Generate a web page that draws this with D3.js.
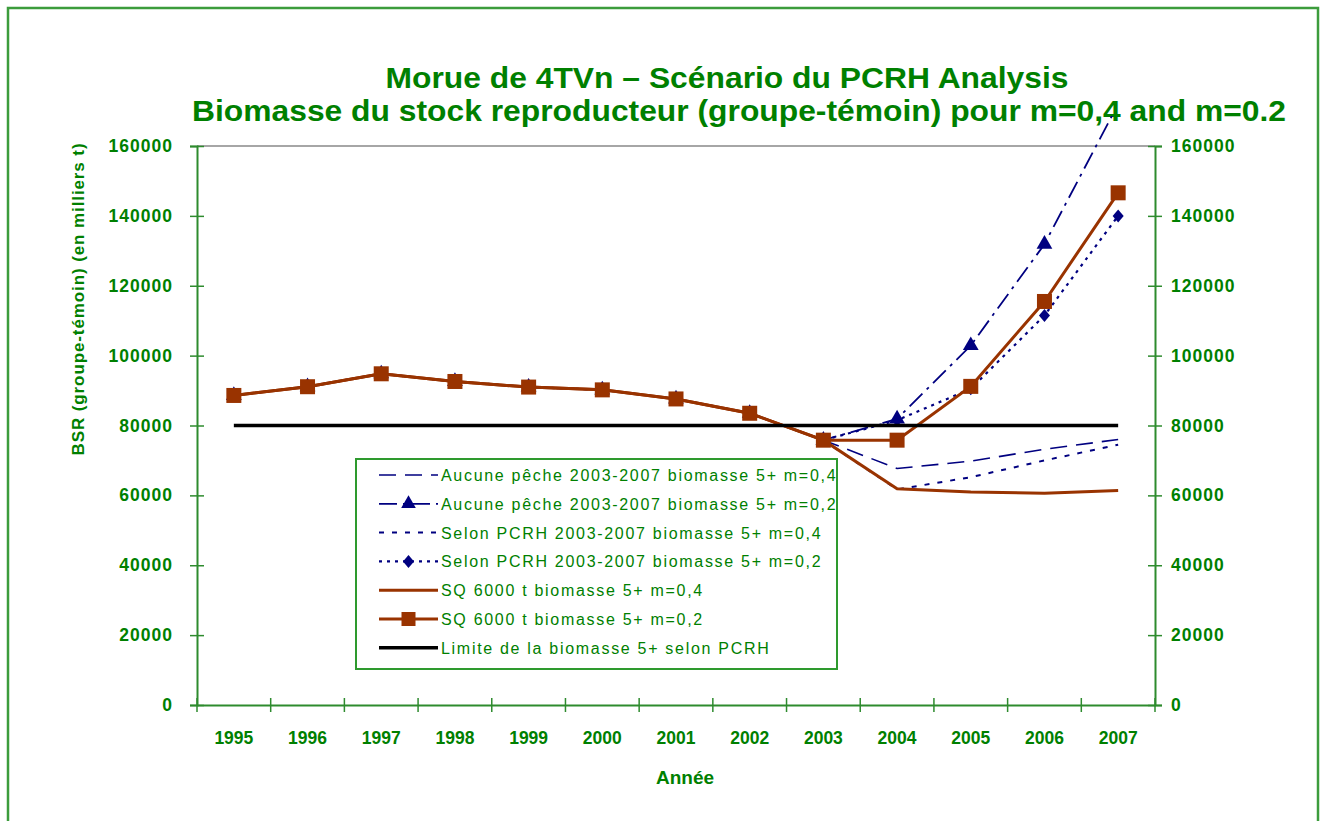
<!DOCTYPE html>
<html><head><meta charset="utf-8">
<script src="https://cdn.jsdelivr.net/npm/d3@7"></script>
<style>
body{margin:0;background:#fff}
svg{display:block}
text{font-family:"Liberation Sans",Arial,sans-serif}
</style>
</head><body>
<svg id="c" width="1320" height="821"></svg>
<script>
// ---------- data ----------
const years = [1995,1996,1997,1998,1999,2000,2001,2002,2003,2004,2005,2006,2007];
const yTicks = [0,20000,40000,60000,80000,100000,120000,140000,160000];
const aucune04 = [88600,91100,94800,92600,91000,90200,87600,83500,75800,67700,69800,73200,76000];
const aucune02 = [88600,91100,94800,92600,91000,90200,87600,83500,75800,81900,102900,131900,172000];
const selon04  = [88600,91100,94800,92600,91000,90200,87600,83500,75800,61700,65200,70000,74500];
const selon02  = [88600,91100,94800,92600,91000,90200,87600,83500,75800,81500,90500,111500,140000];
const sq04     = [88600,91100,94800,92600,91000,90200,87600,83500,75800,61900,61000,60600,61400];
const sq02     = [88600,91100,94800,92600,91000,90200,87600,83500,75800,75800,91200,115500,146600];
const limite   = [80000,80000,80000,80000,80000,80000,80000,80000,80000,80000,80000,80000,80000];
const labels = [
  "Aucune pêche 2003-2007 biomasse 5+ m=0,4",
  "Aucune pêche 2003-2007 biomasse 5+ m=0,2",
  "Selon PCRH 2003-2007 biomasse 5+  m=0,4",
  "Selon PCRH 2003-2007 biomasse 5+  m=0,2",
  "SQ 6000 t  biomasse 5+ m=0,4",
  "SQ 6000 t  biomasse 5+ m=0,2",
  "Limite de la biomasse 5+ selon PCRH"
];
const titleLines = ["Morue de 4TVn – Scénario du PCRH Analysis",
                    "Biomasse du stock reproducteur (groupe-témoin) pour m=0,4 and m=0.2"];
const yTitle = "BSR (groupe-témoin) (en milliers t)";
const xTitle = "Année";

// ---------- styles ----------
const NAVY = "#000080", BROWN = "#993300", GREEN = "#008000", AXIS = "#2e8b2e";
const series = [
  {values: aucune04, color: NAVY,  width: 1.6, dash: "17,9",      marker: null},
  {values: aucune02, color: NAVY,  width: 1.8, dash: "18,6,3,6",  marker: "triangle"},
  {values: selon04,  color: NAVY,  width: 2,   dash: "5,8",       marker: null},
  {values: selon02,  color: NAVY,  width: 2.2, dash: "3,5",       marker: "diamond"},
  {values: sq04,     color: BROWN, width: 3,   dash: null,        marker: null},
  {values: sq02,     color: BROWN, width: 3,   dash: null,        marker: "square"},
  {values: limite,   color: "#000", width: 3.5, dash: null,       marker: null}
];

const svg = d3.select("#c");
const L = 197, R = 1155, T = 146, B = 705;
const x = d3.scaleBand().domain(years).range([L, R]);
const cx = d => x(d) + x.bandwidth()/2;
const y = d3.scaleLinear().domain([0,160000]).range([B, T]);

// outer frame
svg.append("rect").attr("x",8).attr("y",8).attr("width",1310).attr("height",840)
  .attr("fill","none").attr("stroke","#3c9c3c").attr("stroke-width",2.5);

// title
svg.append("text").attr("x",727).attr("y",88).attr("text-anchor","middle")
  .attr("fill",GREEN).attr("font-size",29).attr("font-weight","bold")
  .attr("textLength",683).attr("lengthAdjust","spacingAndGlyphs").text(titleLines[0]);
svg.append("text").attr("x",739).attr("y",121).attr("text-anchor","middle")
  .attr("fill",GREEN).attr("font-size",29).attr("font-weight","bold")
  .attr("textLength",1094).attr("lengthAdjust","spacingAndGlyphs").text(titleLines[1]);

// top plot border
svg.append("line").attr("x1",L).attr("x2",R).attr("y1",T).attr("y2",T)
  .attr("stroke","#888").attr("stroke-width",1.5);

// left axis
const gl = svg.append("g").attr("transform",`translate(${L},0)`)
  .call(d3.axisLeft(y).tickValues(yTicks).tickFormat(d3.format("d")).tickSize(7).tickPadding(17));
gl.select(".domain").attr("stroke",AXIS).attr("stroke-width",2);
gl.selectAll(".tick line").attr("stroke",AXIS).attr("stroke-width",1.5).attr("x2",-7).attr("x1",7);
gl.selectAll(".tick text").attr("fill",GREEN).attr("font-size",17.5).attr("font-weight","bold")
  .attr("letter-spacing",1).attr("font-family","Liberation Sans, Arial, sans-serif");

// right axis
const gr = svg.append("g").attr("transform",`translate(${R},0)`)
  .call(d3.axisRight(y).tickValues(yTicks).tickFormat(d3.format("d")).tickSize(7).tickPadding(9));
gr.select(".domain").attr("stroke",AXIS).attr("stroke-width",2);
gr.selectAll(".tick line").attr("stroke",AXIS).attr("stroke-width",1.5).attr("x1",-7).attr("x2",7);
gr.selectAll(".tick text").attr("fill",GREEN).attr("font-size",17.5).attr("font-weight","bold")
  .attr("letter-spacing",1).attr("font-family","Liberation Sans, Arial, sans-serif");

// bottom axis
const gb = svg.append("g").attr("transform",`translate(0,${B})`)
  .call(d3.axisBottom(x).tickSize(0).tickPadding(27));
gb.select(".domain").attr("stroke",AXIS).attr("stroke-width",2);
gb.selectAll(".tick text").attr("fill",GREEN).attr("font-size",17.5).attr("font-weight","bold")
  .attr("font-family","Liberation Sans, Arial, sans-serif");
const bounds = years.map(d => x(d)).concat([x(years[years.length-1]) + x.bandwidth()]);
svg.append("g").selectAll("line").data(bounds).join("line")
  .attr("x1",d=>d).attr("x2",d=>d).attr("y1",B-7).attr("y2",B+7)
  .attr("stroke",AXIS).attr("stroke-width",1.5);

// axis titles
svg.append("text").attr("transform","translate(84,299) rotate(-90)").attr("text-anchor","middle")
  .attr("fill",GREEN).attr("font-size",17).attr("font-weight","bold").attr("letter-spacing",0.9).text(yTitle);
svg.append("text").attr("x",685).attr("y",784).attr("text-anchor","middle")
  .attr("fill",GREEN).attr("font-size",19).attr("font-weight","bold").text(xTitle);

// clip
svg.append("clipPath").attr("id","clip").append("rect")
  .attr("x",L).attr("y",116).attr("width",R-L).attr("height",B-116);

const line = d3.line().x((d,i)=>cx(years[i])).y(d=>y(d));
const plot = svg.append("g").attr("clip-path","url(#clip)");

function drawMarker(g, type, color, px, py, s){
  if(type==="square"){
    g.append("rect").attr("x",px-s/2).attr("y",py-s/2).attr("width",s).attr("height",s).attr("fill",color);
  } else if(type==="triangle"){
    const sym = d3.symbol().type(d3.symbolTriangle).size(s*s*0.55);
    g.append("path").attr("d",sym()).attr("transform",`translate(${px},${py})`).attr("fill",color);
  } else if(type==="diamond"){
    const h = s/2;
    g.append("path").attr("d",`M${px},${py-h}L${px+h*0.85},${py}L${px},${py+h}L${px-h*0.85},${py}Z`).attr("fill",color);
  }
}

series.forEach(s => {
  const p = plot.append("path").datum(s.values).attr("d",line).attr("fill","none")
    .attr("stroke",s.color).attr("stroke-width",s.width);
  if(s.dash) p.attr("stroke-dasharray",s.dash);
  if(s.marker){
    s.values.forEach((v,i)=>{
      drawMarker(plot, s.marker, s.color, cx(years[i]), y(v), s.marker==="square"?15:(s.marker==="triangle"?14:13));
    });
  }
});

// legend
const lg = svg.append("g");
lg.append("rect").attr("x",356).attr("y",459).attr("width",481).attr("height",210)
  .attr("fill","#fff").attr("stroke","#2e9a2e").attr("stroke-width",2);
labels.forEach((lab,i)=>{
  const s = series[i];
  const yy = 475 + i*28.8;
  const ln = lg.append("line").attr("x1",379).attr("x2",438).attr("y1",yy).attr("y2",yy)
    .attr("stroke",s.color).attr("stroke-width",s.width);
  if(s.dash) ln.attr("stroke-dasharray",s.dash);
  if(s.marker) drawMarker(lg, s.marker, s.color, 408.5, yy, s.marker==="square"?14:13);
  lg.append("text").attr("x",441).attr("y",yy+6).attr("fill",GREEN).attr("font-size",16)
    .attr("letter-spacing",1.7).text(lab);
});
</script>
</body></html>
